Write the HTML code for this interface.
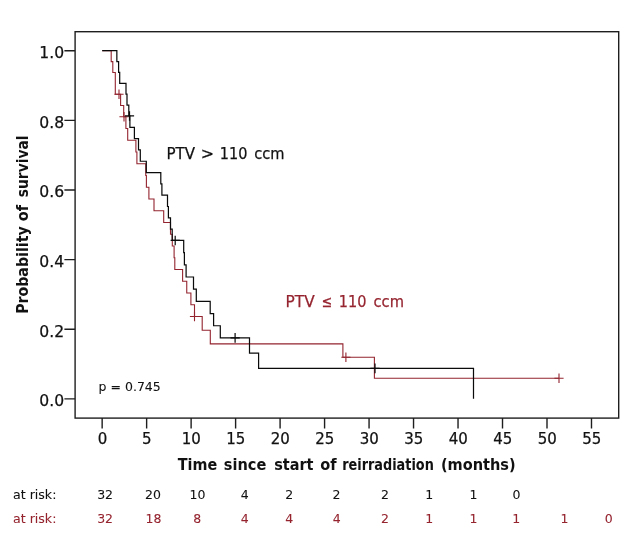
<!DOCTYPE html>
<html lang="en"><head><meta charset="utf-8"><title>Survival after reirradiation</title>
<style>html,body{margin:0;padding:0;background:#fff}body{width:626px;height:541px;overflow:hidden}svg{display:block;will-change:transform}text{font-family:"DejaVu Sans","Liberation Sans",sans-serif;fill:#111;stroke:#111;stroke-width:.25px}.b{stroke-width:0}.tk{font-size:15px}.ty{font-size:15.6px}.b{font-weight:bold;font-size:15.5px}.r{fill:#95242f;stroke:#95242f}.s{font-size:12.5px;stroke-width:.08px}.l{font-size:16px}</style></head><body>
<svg width="626" height="541" viewBox="0 0 626 541">
<rect width="626" height="541" fill="#fff"/>
<rect x="75.1" y="31.7" width="543.6" height="386.4" fill="none" stroke="#1e1e1e" stroke-width="1.4"/>
<path d="M64.4 398.85H75.1M64.4 329.22H75.1M64.4 259.59H75.1M64.4 189.96H75.1M64.4 120.33H75.1M64.4 50.70H75.1M102.15 418.1V428.4M146.63 418.1V428.4M191.12 418.1V428.4M235.61 418.1V428.4M280.09 418.1V428.4M324.58 418.1V428.4M369.06 418.1V428.4M413.54 418.1V428.4M458.03 418.1V428.4M502.51 418.1V428.4M547.00 418.1V428.4M591.49 418.1V428.4" stroke="#1e1e1e" stroke-width="1.4" fill="none"/>
<text class="ty" x="64.1" y="405.8" text-anchor="end">0.0</text>
<text class="ty" x="64.1" y="337.0" text-anchor="end">0.2</text>
<text class="ty" x="64.1" y="266.6" text-anchor="end">0.4</text>
<text class="ty" x="64.1" y="196.6" text-anchor="end">0.6</text>
<text class="ty" x="64.1" y="127.9" text-anchor="end">0.8</text>
<text class="ty" x="64.1" y="57.8" text-anchor="end">1.0</text>
<text class="tk" x="102.4" y="443.6" text-anchor="middle">0</text>
<text class="tk" x="146.8" y="443.6" text-anchor="middle">5</text>
<text class="tk" x="191.3" y="443.6" text-anchor="middle">10</text>
<text class="tk" x="235.8" y="443.6" text-anchor="middle">15</text>
<text class="tk" x="280.3" y="443.6" text-anchor="middle">20</text>
<text class="tk" x="324.8" y="443.6" text-anchor="middle">25</text>
<text class="tk" x="369.3" y="443.6" text-anchor="middle">30</text>
<text class="tk" x="413.7" y="443.6" text-anchor="middle">35</text>
<text class="tk" x="458.2" y="443.6" text-anchor="middle">40</text>
<text class="tk" x="502.7" y="443.6" text-anchor="middle">45</text>
<text class="tk" x="547.2" y="443.6" text-anchor="middle">50</text>
<text class="tk" x="591.7" y="443.6" text-anchor="middle">55</text>
<text class="b" y="469.6"><tspan x="177.80" textLength="39.50" lengthAdjust="spacingAndGlyphs">Time</tspan> <tspan x="223.85" textLength="42.48" lengthAdjust="spacingAndGlyphs">since</tspan> <tspan x="274.15" textLength="39.37" lengthAdjust="spacingAndGlyphs">start</tspan> <tspan x="320.34" textLength="16.36" lengthAdjust="spacingAndGlyphs">of</tspan> <tspan x="342.22" textLength="91.58" lengthAdjust="spacingAndGlyphs">reirradiation</tspan> <tspan x="440.88" textLength="74.82" lengthAdjust="spacingAndGlyphs">(months)</tspan></text>
<text class="b" y="0" transform="translate(27.9 312.6) rotate(-90)"><tspan x="-1.28" textLength="87.51" lengthAdjust="spacingAndGlyphs">Probability</tspan> <tspan x="91.44" textLength="16.16" lengthAdjust="spacingAndGlyphs">of</tspan> <tspan x="115.39" textLength="61.78" lengthAdjust="spacingAndGlyphs">survival</tspan></text>
<path d="M102.20 50.70H111.20V61.60H112.80V72.45H115.30V94.20H120.60V105.50H123.70V116.75H125.90V128.50H127.70V140.25H135.90V152.00H136.90V163.75H145.75V175.50H146.40V187.25H148.90V199.00H154.00V210.75H163.70V222.50H170.50V234.25H172.30V246.00H174.10V257.75H174.80V269.50H182.60V281.25H186.75V293.00H190.90V304.75H194.50V316.50H202.20V330.20H210.30V343.90H342.90V357.30H374.40V378.30H559.00" fill="none" stroke="#93242f" stroke-width="1.1"/>
<path d="M114.40 94.20h9.2M119.00 89.40v9.6M119.40 116.75h9.2M124.00 111.95v9.6M189.90 316.50h9.2M194.50 311.70v9.6M341.30 357.30h9.2M345.90 352.50v9.6M554.40 378.30h9.2M559.00 373.50v9.6" fill="none" stroke="#93242f" stroke-width="1.1"/>
<path d="M102.20 50.70H116.85V61.58H118.60V72.46H119.70V83.34H126.00V94.22H127.00V105.10H128.80V115.98H129.90V127.29H134.40V138.61H138.50V149.92H140.30V161.24H146.30V172.55H160.80V183.87H161.90V195.18H167.50V206.50H168.40V217.81H170.50V229.13H172.20V240.44H183.70V252.63H184.40V264.81H186.10V277.00H193.50V289.18H196.30V301.37H210.20V313.55H213.60V325.74H220.30V337.92H249.50V353.16H258.60V368.39H473.50V398.85" fill="none" stroke="#0a0a0a" stroke-width="1.22"/>
<path d="M124.90 115.98h9.2M129.50 111.18v9.6M170.60 240.44h9.2M175.20 235.64v9.6M230.50 337.92h9.2M235.10 333.12v9.6M370.40 368.39h9.2M375.00 363.59v9.6" fill="none" stroke="#0a0a0a" stroke-width="1.22"/>
<text class="l" y="158.9"><tspan x="166.54" textLength="28.57" lengthAdjust="spacingAndGlyphs">PTV</tspan> <tspan x="200.67" textLength="13.27" lengthAdjust="spacingAndGlyphs">&gt;</tspan> <tspan x="219.81" textLength="27.58" lengthAdjust="spacingAndGlyphs">110</tspan> <tspan x="254.22" textLength="30.30" lengthAdjust="spacingAndGlyphs">ccm</tspan></text>
<text class="l r" y="307.2"><tspan x="285.62" textLength="29.00" lengthAdjust="spacingAndGlyphs">PTV</tspan> <tspan x="321.50" textLength="10.51" lengthAdjust="spacingAndGlyphs">≤</tspan> <tspan x="338.81" textLength="27.69" lengthAdjust="spacingAndGlyphs">110</tspan> <tspan x="373.52" textLength="30.41" lengthAdjust="spacingAndGlyphs">ccm</tspan></text>
<text class="s" x="98.6" y="390.6">p = 0.745</text>
<text class="s" x="13.0" y="499.0" textLength="43.4" lengthAdjust="spacingAndGlyphs">at risk:</text>
<text class="s r" x="13.0" y="522.8" textLength="43.4" lengthAdjust="spacingAndGlyphs">at risk:</text>
<text class="s" x="105.1" y="499.0" text-anchor="middle">32</text>
<text class="s" x="153.0" y="499.0" text-anchor="middle">20</text>
<text class="s" x="197.5" y="499.0" text-anchor="middle">10</text>
<text class="s" x="244.8" y="499.0" text-anchor="middle">4</text>
<text class="s" x="289.2" y="499.0" text-anchor="middle">2</text>
<text class="s" x="336.5" y="499.0" text-anchor="middle">2</text>
<text class="s" x="384.9" y="499.0" text-anchor="middle">2</text>
<text class="s" x="429.2" y="499.0" text-anchor="middle">1</text>
<text class="s" x="473.5" y="499.0" text-anchor="middle">1</text>
<text class="s" x="516.6" y="499.0" text-anchor="middle">0</text>
<text class="s r" x="105.1" y="522.8" text-anchor="middle">32</text>
<text class="s r" x="153.4" y="522.8" text-anchor="middle">18</text>
<text class="s r" x="197.2" y="522.8" text-anchor="middle">8</text>
<text class="s r" x="244.8" y="522.8" text-anchor="middle">4</text>
<text class="s r" x="289.2" y="522.8" text-anchor="middle">4</text>
<text class="s r" x="336.7" y="522.8" text-anchor="middle">4</text>
<text class="s r" x="384.9" y="522.8" text-anchor="middle">2</text>
<text class="s r" x="429.2" y="522.8" text-anchor="middle">1</text>
<text class="s r" x="473.5" y="522.8" text-anchor="middle">1</text>
<text class="s r" x="516.2" y="522.8" text-anchor="middle">1</text>
<text class="s r" x="564.6" y="522.8" text-anchor="middle">1</text>
<text class="s r" x="608.7" y="522.8" text-anchor="middle">0</text>
</svg></body></html>
